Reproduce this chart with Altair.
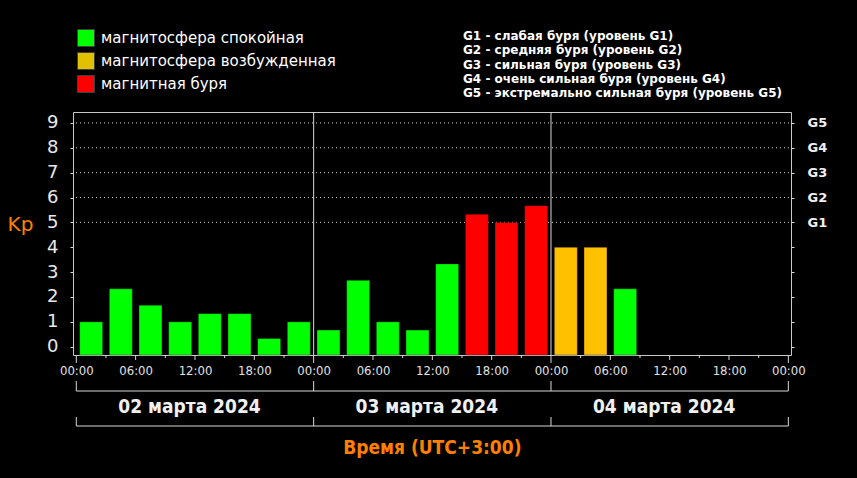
import altair as alt
import pandas as pd

# ---------------- data ----------------
kp_values = [1.0, 2.33, 1.67, 1.0, 1.33, 1.33, 0.33, 1.0,
             0.67, 2.67, 1.0, 0.67, 3.33, 5.33, 5.0, 5.67,
             4.0, 4.0, 2.33]
bar_start_hours = list(range(0, 3 * len(kp_values), 3))
categories = ["магнитосфера спокойная", "магнитосфера возбужденная", "магнитная буря"]
bar_colors = ["#00FF00", "#FFC000", "#FF0000"]
legend_colors = ["#00FF00", "#E0C000", "#FF0000"]
day_labels = ["02 марта 2024", "03 марта 2024", "04 марта 2024"]
day_boundaries = [0, 24, 48, 72]
y_ticks = list(range(10))
storm_levels = [5, 6, 7, 8, 9]
g_labels = ["G1", "G2", "G3", "G4", "G5"]
g_legend_lines = [
    "G1 - слабая буря (уровень G1)",
    "G2 - средняя буря (уровень G2)",
    "G3 - сильная буря (уровень G3)",
    "G4 - очень сильная буря (уровень G4)",
    "G5 - экстремально сильная буря (уровень G5)",
]
x_label_hours = list(range(0, 73, 6))
day_tick_hours = list(range(0, 73, 24))
major_tick_hours = [h for h in range(0, 73, 6) if h % 24 != 0]
minor_tick_hours = [h for h in range(0, 73, 3) if h % 6 != 0]
x_title = "Время (UTC+3:00)"
y_title = "Kp"

# ---------------- layout ----------------
W, H = 718, 243
X_DOMAIN = [-0.334, 72.27]
Y_DOMAIN = [-0.334, 9.44]
COND = "DejaVu Sans Condensed"
LINE = "#d8d8d8"


def classify(v):
    if v < 4:
        return categories[0]
    if v < 5:
        return categories[1]
    return categories[2]


bars_df = pd.DataFrame({
    "mid": [h + 1.5 for h in bar_start_hours],
    "kp": kp_values,
    "cat": [classify(v) for v in kp_values],
})
grid_df = pd.DataFrame({"level": storm_levels})
sep_df = pd.DataFrame({"hour": day_boundaries[1:-1]})
days_df = pd.DataFrame({"center": [(a + b) / 2 for a, b in zip(day_boundaries[:-1], day_boundaries[1:])],
                        "label": day_labels})
bounds_df = pd.DataFrame({"hour": day_boundaries})
span_df = pd.DataFrame({"start": [day_boundaries[0]], "end": [day_boundaries[-1]]})
legend_df = pd.DataFrame({"cat": categories})
glines_df = pd.DataFrame({"text": ["\n".join(g_legend_lines)]})
title_df = pd.DataFrame({"center": [(day_boundaries[0] + day_boundaries[-1]) / 2], "label": [x_title]})

xscale = alt.Scale(domain=X_DOMAIN, nice=False, zero=False, padding=0)
yscale = alt.Scale(domain=Y_DOMAIN, nice=False, zero=False, padding=0)

hour_label_expr = "(datum.value % 24 < 10 ? '0' : '') + (datum.value % 24) + ':00'"
g_expr = "''"
for lvl, g in reversed(list(zip(storm_levels, g_labels))):
    g_expr = f"datum.value == {lvl} ? '{g}' : ({g_expr})"

x_axis = alt.Axis(orient="bottom", values=x_label_hours, labelExpr=hour_label_expr, ticks=False,
                  domain=False, grid=False, title=None, labelFont=COND, labelFontSize=13,
                  labelColor="#e0e0e0", labelPadding=9, labelFlush=False, labelOverlap=False)


def X(field):
    return alt.X(field, type="quantitative", scale=xscale, axis=x_axis)


# grid (dotted) with right axis G1..G5
grid = alt.Chart(grid_df).mark_rule(color="#d0d0d0", strokeDash=[1, 3], strokeWidth=1).encode(
    y=alt.Y("level:Q", scale=yscale,
            axis=alt.Axis(orient="right", values=y_ticks, labelExpr=g_expr, title=None,
                          tickSize=3, tickColor=LINE, domain=False, grid=False,
                          labelFont="DejaVu Sans", labelFontWeight="bold", labelFontSize=13,
                          labelColor="#f0f0f0", labelPadding=13, labelAlign="left",
                          labelBaseline="middle")),
    x=alt.value(3),
    x2=alt.value(W),
)

bars = alt.Chart(bars_df).mark_bar(size=23, stroke="black", strokeOpacity=0.35, strokeWidth=1).encode(
    x=X("mid"),
    y=alt.Y("kp:Q", scale=yscale,
            axis=alt.Axis(orient="left", values=y_ticks, tickSize=3, tickColor=LINE, domain=False,
                          grid=False, labelFont="DejaVu Sans", labelFontSize=18, labelColor="#e8e8e8",
                          labelPadding=12, labelAlign="right", labelBaseline="middle",
                          title=y_title, titleAngle=0, titleX=-53, titleY=112,
                          titleAlign="center", titleBaseline="middle", titleColor="#FF8000",
                          titleFont="DejaVu Sans", titleFontSize=20, titleFontWeight="normal")),
    y2=alt.datum(Y_DOMAIN[0]),
    color=alt.Color("cat:N", scale=alt.Scale(domain=categories, range=bar_colors), legend=None),
)

seps = alt.Chart(sep_df).mark_rule(color=LINE, strokeWidth=1).encode(x=X("hour"))


def tick_layer(hours, length):
    return alt.Chart(pd.DataFrame({"hour": hours})).mark_rule(color=LINE, strokeWidth=1).encode(
        x=X("hour"), y=alt.value(H), y2=alt.value(H + length))


ticks = alt.layer(tick_layer(day_tick_hours, 8), tick_layer(major_tick_hours, 5),
                  tick_layer(minor_tick_hours, 3))


def bracket(y_line, y_top):
    h = alt.Chart(span_df).mark_rule(color=LINE, strokeWidth=1).encode(
        x=X("start"), x2="end:Q", y=alt.value(y_line))
    v = alt.Chart(bounds_df).mark_rule(color=LINE, strokeWidth=1).encode(
        x=X("hour"), y=alt.value(y_top), y2=alt.value(y_line))
    return alt.layer(h, v)


brackets = alt.layer(bracket(H + 36, H + 26), bracket(H + 71, H + 62))

days = alt.Chart(days_df).mark_text(font=COND, fontWeight="bold", fontSize=19, color="#f0f0f0",
                                    baseline="middle", align="center", dx=-5.5).encode(
    x=X("center"), y=alt.value(H + 52), text="label:N")

xtitle = alt.Chart(title_df).mark_text(font=COND, fontWeight="bold", fontSize=19, color="#FF8000",
                                       baseline="middle", align="center").encode(
    x=X("center"), y=alt.value(H + 93), text="label:N")

glines = alt.Chart(glines_df).mark_text(font="DejaVu Sans", fontWeight="bold", fontSize=12,
                                        color="white", align="left", baseline="top",
                                        lineBreak="\n", lineHeight=14.3).encode(
    x=alt.value(390), y=alt.value(-81), text="text:N")

legend_layer = alt.Chart(legend_df).mark_square(opacity=0, size=1).encode(
    color=alt.Color("cat:N", scale=alt.Scale(domain=categories, range=legend_colors),
                    legend=alt.Legend(orient="none", legendX=4, legendY=-83, title=None,
                                      symbolType="square", symbolSize=289, symbolOpacity=1,
                                      symbolStrokeColor="#404040", symbolStrokeWidth=1,
                                      labelFont="DejaVu Sans", labelFontSize=15, labelColor="white",
                                      labelOffset=6, rowPadding=1, padding=0, labelLimit=400)),
    x=alt.value(0), y=alt.value(0),
)

chart = alt.layer(grid, bars, seps, ticks, brackets, days, xtitle, glines, legend_layer).resolve_scale(
    y="independent", color="independent"
).properties(
    width=W, height=H,
    background="black",
    autosize=alt.AutoSizeParams(type="none"),
    padding={"left": 73, "top": 112, "right": 857 - 73 - W, "bottom": 478 - 112 - H},
).configure_view(stroke="#c8c8c8", strokeWidth=1)

chart.save("out.html", embed_options={"renderer": "svg", "actions": False})
